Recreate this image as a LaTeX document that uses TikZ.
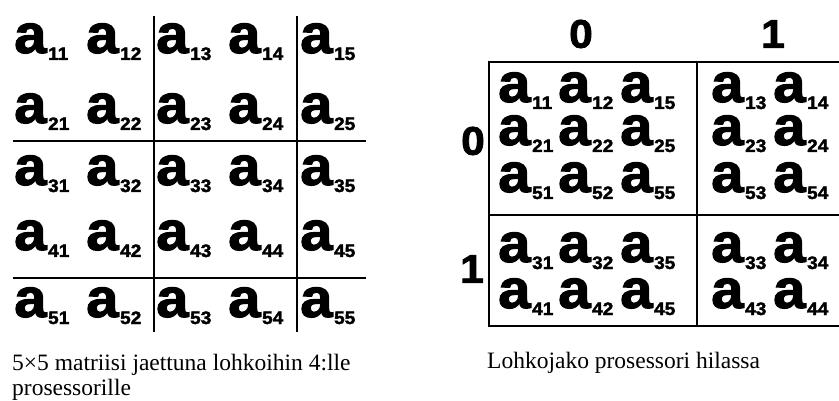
\documentclass[tikz,border=0pt]{standalone}
\usepackage{fontspec}
\setmainfont{Liberation Serif}
\newfontfamily\helvb{Liberation Sans Bold}[FakeBold=2, FakeStretch=1.06]
\newcommand\entry[1]{a\kern1.5pt\raisebox{-7pt}{\fontsize{18}{18}\selectfont #1}}
\tikzset{
  ent/.style={anchor=base west, inner sep=0pt, font=\helvb\fontsize{55}{55}\selectfont},
  idx/.style={anchor=center, inner sep=0pt, font=\helvb\fontsize{40}{40}\selectfont},
  captext/.style={anchor=base west, inner sep=0pt, font=\fontsize{23.5}{25}\selectfont},
  gridline/.style={line width=1.6pt, black},
}
\begin{document}
\begin{tikzpicture}[x=1pt,y=-1pt]
\useasboundingbox (0,0) rectangle (839,401);
% ---- left: 5x5 matrix ----
\foreach \r/\y in {1/53,2/123,3/185,4/250,5/317}
  \foreach \c/\x in {1/14,2/86,3/156,4/228,5/300}
    \node[ent] (L\r\c) at (\x,\y) {\entry{\r\c}};
\coordinate (v1t) at (154,16); \coordinate (v1b) at (154,332);
\coordinate (v2t) at (297,16); \coordinate (v2b) at (297,332);
\coordinate (h1l) at (13,141); \coordinate (h1r) at (366,141);
\coordinate (h2l) at (13,278); \coordinate (h2r) at (366,278);
\draw[gridline] (v1t) -- (v1b);
\draw[gridline] (v2t) -- (v2b);
\draw[gridline] (h1l) -- (h1r);
\draw[gridline] (h2l) -- (h2r);
\node[captext] (capL1) at (12,370) {5×5 matriisi jaettuna lohkoihin 4:lle};
\node[captext] (capL2) at (12,395) {prosessorille};
% ---- right: processor grid ----
\node[idx] (c0) at (581,34) {0};
\node[idx] (c1) at (773,34) {1};
\node[idx] (r0) at (473,141) {0};
\node[idx] (r1) at (472,269) {1};
\begin{scope}
\clip (0,0) rectangle (839,401);
\draw[gridline] (489,62) rectangle (860,326);
\draw[gridline] (697,62) -- (697,326);
\draw[gridline] (489,215) -- (860,215);
\end{scope}
\foreach \r/\y in {1/102,2/145,5/192,3/262,4/308}
  \foreach \c/\x in {1/498,2/558,5/620}
    \node[ent] (R\r\c) at (\x,\y) {\entry{\r\c}};
\foreach \r/\y in {1/102,2/145,5/192,3/262,4/308}
  \foreach \c/\x in {3/711,4/773}
    \node[ent] (R\r\c) at (\x,\y) {\entry{\r\c}};
\node[captext] (capR) at (487,368) {Lohkojako prosessori hilassa};
\end{tikzpicture}
\end{document}
